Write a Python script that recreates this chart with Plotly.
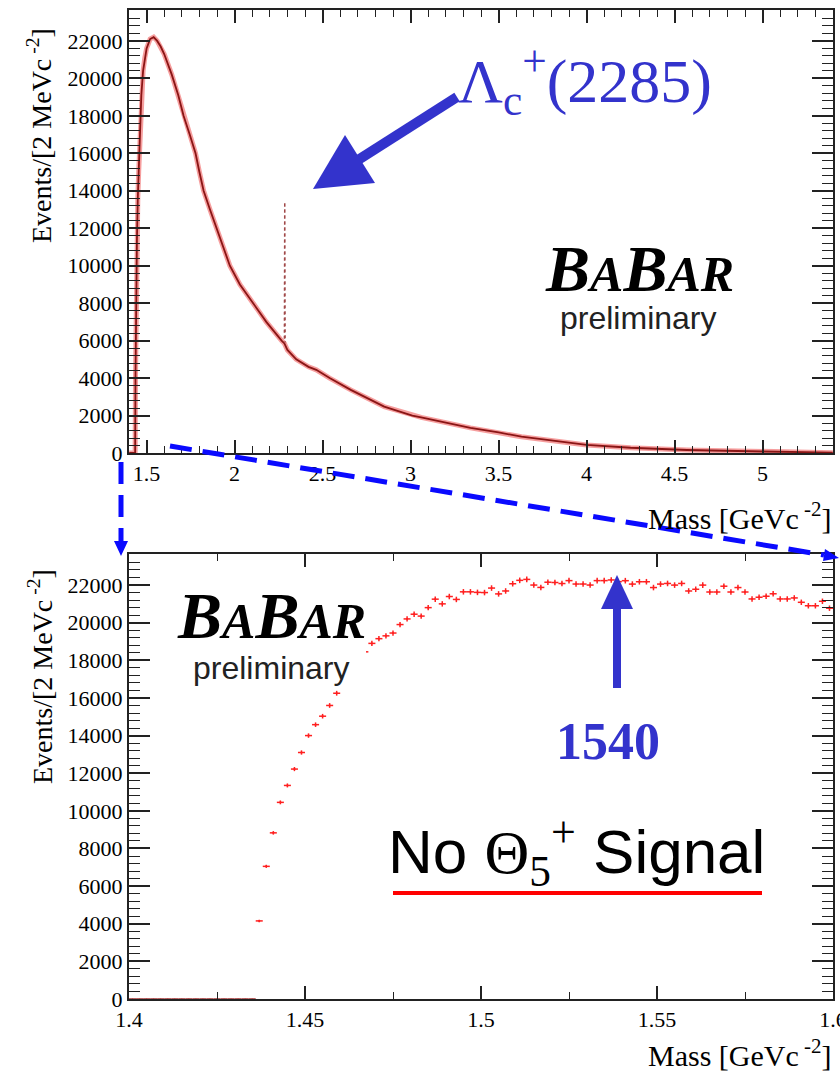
import numpy as np
import plotly.graph_objects as go

W, H = 840, 1073

# ---------------- data ----------------
# top panel: full mass spectrum (GeV, events / 2 MeV)
top_mass = [1.401, 1.435, 1.437, 1.440, 1.445, 1.450, 1.455, 1.460, 1.470, 1.480,
            1.490, 1.500, 1.520, 1.540, 1.560, 1.580, 1.600, 1.643, 1.680, 1.710,
            1.745, 1.778, 1.800, 1.824, 1.860, 1.898, 1.935, 1.973, 2.030, 2.106,
            2.180, 2.267, 2.283, 2.300, 2.350, 2.420, 2.464, 2.540, 2.660, 2.850,
            3.010, 3.060, 3.340, 3.500, 3.630, 4.000, 4.250, 4.570, 4.800, 5.000, 5.399]
top_counts = [0, 0, 4150, 8000, 11350, 13600, 15000, 16500, 19100, 20400,
              21100, 21600, 22100, 22200, 22000, 21700, 21300, 20200, 19100, 18000,
              17000, 16000, 15000, 14000, 13000, 12000, 11000, 10000, 9000, 8000,
              7000, 6000, 5850, 5500, 5000, 4600, 4440, 4000, 3370, 2480,
              2000, 1900, 1340, 1100, 870, 430, 280, 160, 110, 80, 20]

# Lambda_c+ (2285) spike
lambda_mass = [2.283, 2.285, 2.287]
lambda_counts = [6100, 13400, 5900]

# bottom panel: zoom 1.4 - 1.6 GeV, 2 MeV bins
bin_start, bin_width, n_bins = 1.400, 0.002, 100
bottom_counts = [0] * 18 + [
    4150, 7050, 8830, 10450, 11350, 12220, 13100, 14000, 14580, 15030,
    15600, 16250, 16800, 17400, 17950, 18450, 18900, 19150, 19300, 19450,
    19900, 20200, 20450, 20350, 20800, 21250, 21000, 21390, 21235, 21640,
    21640, 21610, 21600, 21840, 21530, 21685, 22070, 22250, 22300, 22000,
    21874, 22150, 22135, 22080, 22235, 22054, 22054, 22000, 22235, 22235,
    22271, 22180, 22232, 22051, 22176, 22176, 21867, 22051, 22085, 21997,
    22085, 21684, 21775, 21997, 21630, 21630, 21938, 21630, 21867, 21630,
    21261, 21352, 21405, 21536, 21261, 21261, 21315, 21083, 20899, 20899,
    21137, 20770]
assert len(bottom_counts) == n_bins
bottom_mass = [round(bin_start + bin_width * (i + 0.5), 4) for i in range(n_bins)]

top_xticks = [1.5, 2, 2.5, 3, 3.5, 4, 4.5, 5]
top_xlabels = ["1.5", "2", "2.5", "3", "3.5", "4", "4.5", "5"]
bot_xticks = [1.4, 1.45, 1.5, 1.55, 1.6]
bot_xlabels = ["1.4", "1.45", "1.5", "1.55", "1.6"]
yticks = list(range(0, 22001, 2000))
ylabels = [str(v) for v in yticks]

# ---------------- helpers ----------------
def px(x):
    return x / W

def py(y):
    return 1 - y / H

SERIF = "Liberation Serif, Times New Roman, serif"
SANS = "Liberation Sans, Arial, sans-serif"
ARROW = "#3333cc"
DASH = "#0a0aff"

fig = go.Figure()

# top panel traces
fig.add_trace(go.Scatter(x=top_mass, y=top_counts, mode="lines",
                         line=dict(color="rgba(235,40,40,0.45)", width=5),
                         xaxis="x", yaxis="y", hoverinfo="skip"))
fig.add_trace(go.Scatter(x=top_mass, y=top_counts, mode="lines",
                         line=dict(color="#8a1515", width=1.8),
                         xaxis="x", yaxis="y"))
fig.add_trace(go.Scatter(x=lambda_mass, y=lambda_counts, mode="lines",
                         line=dict(color="#a04848", width=1.5, dash="dot"),
                         xaxis="x", yaxis="y"))

# bottom panel traces
bm = np.array(bottom_mass)
bc = np.array(bottom_counts, dtype=float)
nz = bc > 0
fig.add_trace(go.Scatter(x=bm[~nz], y=bc[~nz], mode="markers",
                         marker=dict(size=1, color="#a03030"),
                         error_x=dict(type="constant", value=bin_width / 2, color="#a03030",
                                      thickness=1.5, width=0),
                         xaxis="x2", yaxis="y2"))
fig.add_trace(go.Scatter(x=bm[nz], y=bc[nz], mode="markers",
                         marker=dict(size=2, color="#ff2020"),
                         error_x=dict(type="constant", value=bin_width / 2, color="#ff2020",
                                      thickness=1.5, width=0),
                         error_y=dict(type="data", array=np.sqrt(bc[nz]), color="#ff2020",
                                      thickness=1.5, width=0),
                         xaxis="x2", yaxis="y2"))

x_dom = [px(129), px(833)]
axis_common = dict(showline=True, linecolor="#222", linewidth=2, mirror="allticks",
                   ticks="inside", tickcolor="#222", tickwidth=1.5,
                   showgrid=False, zeroline=False, automargin=False,
                   ticklabeloverflow="allow",
                   tickfont=dict(family=SERIF, size=22, color="black"))

fig.update_layout(
    template="none",
    width=W, height=H, margin=dict(l=0, r=0, t=0, b=0, pad=0),
    paper_bgcolor="white", plot_bgcolor="white", showlegend=False,
    xaxis=dict(domain=x_dom, range=[1.4, 5.4], anchor="y",
               tickvals=top_xticks, ticktext=top_xlabels, ticklen=13,
               minor=dict(dtick=0.1, tick0=1.4, ticklen=7, ticks="inside",
                          tickcolor="#222", tickwidth=1.2),
               **axis_common),
    yaxis=dict(domain=[py(453), py(10)], range=[0, 23650], anchor="x",
               tickvals=yticks, ticktext=ylabels, ticklen=21,
               minor=dict(dtick=400, tick0=0, ticklen=11, ticks="inside",
                          tickcolor="#222", tickwidth=1.2),
               **axis_common),
    xaxis2=dict(domain=x_dom, range=[1.4, 1.6], anchor="y2",
                tickvals=bot_xticks, ticktext=bot_xlabels, ticklen=13,
                minor=dict(dtick=0.025, tick0=1.4, ticklen=7, ticks="inside",
                           tickcolor="#222", tickwidth=1.2),
                **axis_common),
    yaxis2=dict(domain=[py(999), py(554)], range=[0, 23650], anchor="x2",
                tickvals=yticks, ticktext=ylabels, ticklen=21,
                minor=dict(dtick=400, tick0=0, ticklen=11, ticks="inside",
                           tickcolor="#222", tickwidth=1.2),
                **axis_common),
)

shapes = []
# white box behind the lower BABAR logo
shapes.append(dict(type="rect", xref="paper", yref="paper", layer="above",
                   x0=px(172), x1=px(366), y0=py(687), y1=py(588),
                   fillcolor="white", line=dict(width=0)))

def tri(p1, p2, p3, color):
    path = "M {} {} L {} {} L {} {} Z".format(px(p1[0]), py(p1[1]), px(p2[0]), py(p2[1]),
                                               px(p3[0]), py(p3[1]))
    return dict(type="path", xref="paper", yref="paper", layer="above", path=path,
                fillcolor=color, line=dict(width=0))

def seg(a, b, color, width, dash=None):
    d = dict(type="line", xref="paper", yref="paper", layer="above",
             x0=px(a[0]), y0=py(a[1]), x1=px(b[0]), y1=py(b[1]),
             line=dict(color=color, width=width))
    if dash:
        d["line"]["dash"] = dash
    return d

# Lambda_c arrow
shapes.append(seg((358, 160), (457, 97), ARROW, 10))
shapes.append(tri((313, 189), (375, 183), (345, 135), ARROW))
# 1540 arrow
shapes.append(seg((617, 604), (617, 688), ARROW, 8))
shapes.append(tri((617, 575), (601, 609), (633, 609), ARROW))
# dashed zoom lines
shapes.append(seg((170, 446), (824, 555), DASH, 5, "22px,11px"))
shapes.append(tri((839, 558), (823, 561), (825, 549), DASH))
shapes.append(seg((121, 462), (121, 543), DASH, 5, "22px,11px"))
shapes.append(tri((121, 556), (114, 541), (128, 541), DASH))
# red underline
shapes.append(seg((393, 893), (762, 893), "#ff0000", 4))
fig.update_layout(shapes=shapes)

babar = ('<b><i>B<span style="font-size:50px">A</span>B'
         '<span style="font-size:50px">AR</span></i></b>')
ann = []
def text(x, y, t, family, size, color="black", angle=0, xanchor="center", yanchor="middle"):
    ann.append(dict(x=px(x), y=py(y), xref="paper", yref="paper", text=t, showarrow=False,
                    font=dict(family=family, size=size, color=color), textangle=angle,
                    xanchor=xanchor, yanchor=yanchor))

text(639, 268, babar, SERIF, 66)
text(638, 318, "preliminary", SANS, 32, "#222")
text(271, 615, babar, SERIF, 66)
text(271, 668, "preliminary", SANS, 32, "#222")
text(585, 80, 'Λ<sub>c</sub><sup>+</sup>(2285)', SERIF, 62, ARROW)
text(608, 741, "<b>1540</b>", SERIF, 52, ARROW)
text(576, 851, '<span style="font-family:Liberation Sans">No </span>Θ<sub>5</sub>'
     '<sup><span style="font-size:44px">+</span></sup>'
     '<span style="font-family:Liberation Sans"> Signal</span>', SERIF, 62)
text(40, 136, "Events/[2 MeVc<sup> -2</sup>]", SERIF, 28, angle=-90)
text(40, 677, "Events/[2 MeVc<sup> -2</sup>]", SERIF, 28, angle=-90)
text(834, 516, "Mass [GeVc<sup> -2</sup>]", SERIF, 30, xanchor="right")
text(834, 1053, "Mass [GeVc<sup> -2</sup>]", SERIF, 30, xanchor="right")
fig.update_layout(annotations=ann)

fig.write_html("out.html", config={"displayModeBar": False},
               post_script="document.body.style.margin='0';document.body.style.overflow='hidden';")
